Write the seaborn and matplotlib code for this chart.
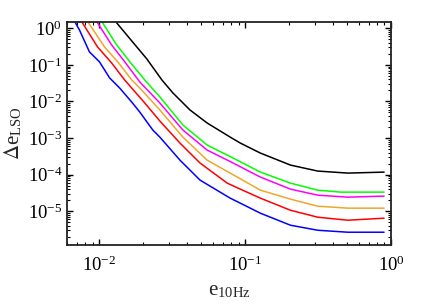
import numpy as np
import pandas as pd
import matplotlib
matplotlib.use("Agg")
import matplotlib.pyplot as plt
import matplotlib.ticker as mticker
import seaborn as sns

# ---- data ----
blue_x = [0.00683, 0.00728, 0.00853, 0.0100, 0.01173, 0.01374, 0.01662, 0.01888, 0.0232, 0.02594,
          0.03562, 0.04894, 0.0788, 0.09237, 0.1269, 0.2042, 0.3138, 0.5049, 0.8953]
blue_y = [1.42, 0.91, 0.227, 0.121, 0.0441, 0.0234, 0.00968, 0.00515, 0.00166, 0.00106,
          2.49e-4, 7.07e-5, 2.27e-5, 1.66e-5, 8.81e-6, 4.13e-6, 3.01e-6, 2.66e-6, 2.66e-6]

red_x = [0.00763, 0.00969, 0.0121, 0.01487, 0.02043, 0.02594, 0.03562, 0.04894, 0.07516, 0.09237,
         0.1269, 0.2042, 0.3138, 0.5049, 0.8953]
red_y = [1.42, 0.311, 0.1135, 0.0388, 0.0091, 0.00292, 7.29e-4, 2.07e-4, 5.85e-5, 4.01e-5,
         2.27e-5, 1.06e-5, 6.85e-6, 5.66e-6, 6.43e-6]

orange_x = [0.0084, 0.01082, 0.01352, 0.01662, 0.01888, 0.02594, 0.03732, 0.05471, 0.0881, 0.1269,
            0.2042, 0.3138, 0.5049, 0.8953]
orange_y = [1.42, 0.311, 0.1135, 0.0388, 0.0234, 0.00585, 0.00106, 2.49e-4, 8.55e-5, 3.76e-5,
            2.13e-5, 1.37e-5, 1.21e-5, 1.21e-5]

magenta_x = [0.00969, 0.0121, 0.0151, 0.01888, 0.02594, 0.03732, 0.05471, 0.08262, 0.1269, 0.2042,
             0.3138, 0.5049, 0.8953]
magenta_y = [1.42, 0.353, 0.1135, 0.0342, 0.0091, 0.00166, 4.69e-4, 2.07e-4, 8.55e-5, 4.01e-5,
             2.74e-5, 2.42e-5, 2.58e-5]

green_x = [0.0105, 0.0131, 0.01636, 0.02043, 0.02594, 0.03732, 0.05471, 0.08262, 0.1269, 0.2042,
           0.3138, 0.452, 0.8953]
green_y = [1.42, 0.353, 0.1135, 0.0388, 0.0133, 0.00227, 6.43e-4, 2.83e-4, 1.17e-4, 5.85e-5,
           3.76e-5, 3.32e-5, 3.32e-5]

black_x = [0.0131, 0.01662, 0.0211, 0.02678, 0.03187, 0.04175, 0.05471, 0.0788, 0.09237, 0.1269,
           0.2042, 0.3138, 0.5049, 0.8953]
black_y = [1.42, 0.455, 0.146, 0.0388, 0.0171, 0.00585, 0.00258, 0.00106, 7.29e-4, 3.88e-4,
           1.82e-4, 1.25e-4, 1.10e-4, 1.17e-4]

series_names = ["blue", "red", "orange", "magenta", "green", "black"]
series_colors = ["#0000FF", "#FF0000", "#F0A62A", "#FF00FF", "#00FF00", "#000000"]

frames = []
for name, xs, ys in zip(series_names,
                        [blue_x, red_x, orange_x, magenta_x, green_x, black_x],
                        [blue_y, red_y, orange_y, magenta_y, green_y, black_y]):
    frames.append(pd.DataFrame({"x": xs, "y": ys, "s": name}))
df = pd.concat(frames, ignore_index=True)

sns.set_style("white")
plt.rcParams["font.family"] = ["Liberation Serif", "DejaVu Serif"]
plt.rcParams["mathtext.fontset"] = "stix"

fig = plt.figure(figsize=(4.36, 3.08), dpi=100)
ax = fig.add_axes([0.154, 0.205, 0.743, 0.724])

sns.lineplot(data=df, x="x", y="y", hue="s", palette=dict(zip(series_names, series_colors)),
             sort=False, estimator=None, units="s", linewidth=1.1, legend=False, ax=ax)

ax.set_xscale("log")
ax.set_yscale("log")
ax.set_xlim(0.006, 1.0)
ax.set_ylim(1.2e-6, 1.5)

ax.set_yticks([1e-5, 1e-4, 1e-3, 1e-2, 1e-1, 1e0])
ax.set_xticks([1e-2, 1e-1, 1e0])
ax.xaxis.set_minor_locator(mticker.LogLocator(base=10, subs=np.arange(2, 10), numticks=100))
ax.yaxis.set_minor_locator(mticker.LogLocator(base=10, subs=np.arange(2, 10), numticks=100))
ax.xaxis.set_minor_formatter(mticker.NullFormatter())
ax.yaxis.set_minor_formatter(mticker.NullFormatter())
ax.tick_params(which="both", direction="in", bottom=True, left=True, top=True, right=True,
               colors="black", labelsize=13.5)
ax.tick_params(which="major", length=4, width=1.0)
ax.tick_params(which="minor", length=2.2, width=0.8)
ax.tick_params(axis="x", which="major", pad=8)

for sp in ax.spines.values():
    sp.set_color("#222222")
    sp.set_linewidth(1.3)

ax.set_xlabel(r"e$_{\mathregular{10Hz}}$", fontsize=15)
ax.set_ylabel(r"$\Delta$e$_{\mathregular{LSO}}$", fontsize=15, labelpad=2)

fig.savefig("out.png", dpi=100)
